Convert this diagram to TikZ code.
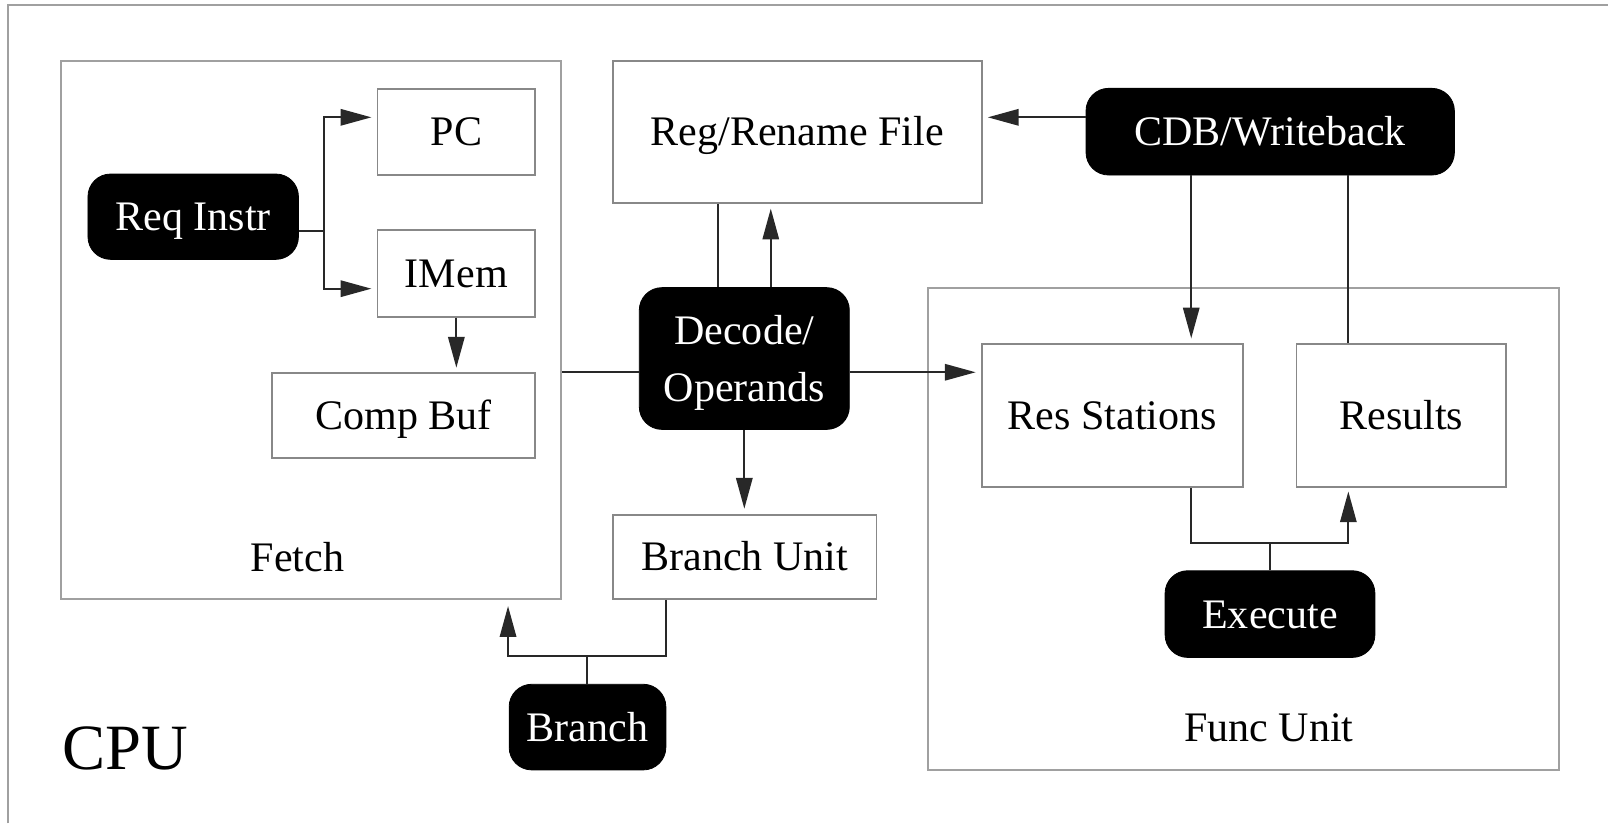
\documentclass[tikz,border=0pt]{standalone}
\usepackage{fontspec}
\setmainfont{Liberation Serif}
\usetikzlibrary{arrows.meta}
\definecolor{boxgray}{RGB}{136,136,136}
\definecolor{framegray}{RGB}{160,160,160}
\definecolor{linecol}{RGB}{40,40,40}
\newcommand\dgmfont{\fontsize{20.5}{28}\selectfont}
\newcommand\dgmcpu{\fontsize{31.5}{36}\selectfont}
\tikzset{
  single/.style={text height=13.6pt,text depth=0pt},
  wbox/.style={draw=boxgray,line width=0.85pt,inner sep=0pt,font=\dgmfont,single},
  bbox/.style={fill=black,draw=black,rounded corners=11pt,text=white,inner sep=0pt,font=\dgmfont},
  group/.style={draw=framegray,line width=0.9pt,inner sep=0pt},
  conn/.style={draw=linecol,line width=0.9pt},
  arr/.style={conn,-{Triangle[length=15pt,width=8pt]},shorten >=2.5pt},
  glabel/.style={inner sep=0pt,font=\dgmfont,anchor=base}
}
\begin{document}
\begin{tikzpicture}[x=0.5pt,y=-0.5pt]
\useasboundingbox (0,0) rectangle (1568,803);
\draw[framegray,line width=1pt] (8.2,803) -- (8.2,4.6) -- (1568,4.6);

% groups
\node[group,minimum width=243.75pt,minimum height=262.3pt] (fetch) at (303.5,321.8) {};
\node[group,minimum width=307.6pt,minimum height=235.15pt] (func) at (1212.6,515.65) {};
\node[glabel] (fetchlbl) at (290.2,557.5) {Fetch};
\node[glabel] (funclbl) at (1237.3,723.2) {Func Unit};
\node[inner sep=0pt,font=\dgmcpu,anchor=base west] (cpu) at (60.5,750.2) {CPU};

% white boxes
\node[wbox,minimum width=77pt,minimum height=41.9pt] (pc) at (445,128.4) {PC};
\node[wbox,minimum width=77pt,minimum height=42.25pt] (imem) at (445,266.5) {IMem};
\node[wbox,minimum width=128.5pt,minimum height=41.5pt] (compbuf) at (393.5,404.9) {Comp Buf};
\node[wbox,minimum width=179.9pt,minimum height=69.2pt] (regfile) at (777.5,128.4) {Reg/Rename File};
\node[wbox,minimum width=127.5pt,minimum height=69.7pt] (res) at (1084.7,405.5) {Res Stations};
\node[wbox,minimum width=102.3pt,minimum height=69.7pt] (results) at (1366.5,405.5) {Results};
\node[wbox,minimum width=128.5pt,minimum height=41.1pt] (bunit) at (726.3,543) {Branch Unit};

% black nodes
\node[bbox,single,minimum width=102.6pt,minimum height=41.6pt] (req) at (188.4,211.3) {Req Instr};
\node[bbox,single,minimum width=179.6pt,minimum height=42.25pt] (cdb) at (1238.6,128.4) {CDB/Writeback};
\node[bbox,align=center,text depth=0pt,minimum width=102.4pt,minimum height=69.1pt] (decode) at (725.8,349.6) {Decode/\\Operands};
\node[bbox,single,minimum width=102.3pt,minimum height=42.25pt] (execute) at (1238.4,598.8) {Execute};
\node[bbox,single,minimum width=76.4pt,minimum height=41.75pt] (branch) at (572.9,709) {Branch};

% helper coordinates
\coordinate (rj) at (315.7,225);
\coordinate (pcin) at (0,114.4);
\coordinate (imin) at (0,281.5);
\coordinate (dl) at (0,363);
\coordinate (dr1) at (700.3,0);
\coordinate (dr2) at (751.6,0);
\coordinate (cr) at (0,114.4);
\coordinate (cd1) at (1161.6,0);
\coordinate (cd2) at (1314.8,0);
\coordinate (ej) at (1238.4,529.2);
\coordinate (bj) at (572.1,639.7);
\coordinate (bu) at (649.3,0);
\coordinate (bx) at (495.4,0);

% connectors
\draw[conn] (req.east |- rj) -- (rj);
\draw[arr] (rj) |- (pc.west |- pcin);
\draw[arr] (rj) |- (imem.west |- imin);
\draw[arr,shorten >=2pt] (imem.south) -- (imem.south |- compbuf.north);
\draw[conn] (fetch.east |- dl) -- (decode.west |- dl);
\draw[arr] (decode.east |- dl) -- (res.west |- dl);
\draw[conn] (decode.north -| dr1) -- (regfile.south -| dr1);
\draw[arr] (decode.north -| dr2) -- (regfile.south -| dr2);
\draw[arr] (cdb.west |- cr) -- (regfile.east |- cr);
\draw[arr] (cdb.south -| cd1) -- (res.north -| cd1);
\draw[conn] (cdb.south -| cd2) -- (results.north -| cd2);
\draw[conn] (execute.north) -- (ej);
\draw[arr,shorten >=1.6pt] (res.south -| cd1) |- (ej) -| (results.south -| cd2);
\draw[arr] (decode.south) -- (decode.south |- bunit.north);
\draw[conn] (branch.north -| bj) -- (bj);
\draw[arr,shorten >=3pt] (bunit.south -| bu) |- (bj) -| (fetch.south -| bx);
\end{tikzpicture}
\end{document}
